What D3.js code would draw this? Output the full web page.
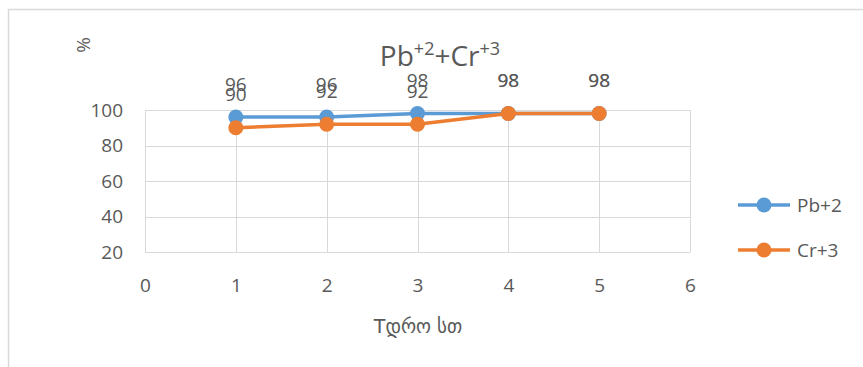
<!DOCTYPE html>
<html>
<head>
<meta charset="utf-8">
<script src="https://cdn.jsdelivr.net/npm/d3@7"></script>
<style>
  html, body { margin: 0; padding: 0; background: #fff; }
  svg { display: block; }
  text { font-family: "Open Sans", "Liberation Sans", "DejaVu Sans", sans-serif; fill: #595959; }
</style>
</head>
<body>
<script>
// Sampling times (hours)
const hours = [1, 2, 3, 4, 5];
// Removal efficiency, %
const pbValues = [96, 96, 98, 98, 98];
const crValues = [90, 92, 92, 98, 98];
const seriesNames = ["Pb+2", "Cr+3"];
const seriesColors = ["#5b9bd5", "#ed7d31"];
const xTicks = [0, 1, 2, 3, 4, 5, 6];
const yTicks = [20, 40, 60, 80, 100];

const W = 863, H = 367;
const svg = d3.select("body").append("svg").attr("width", W).attr("height", H);

svg.append("rect").attr("width", W).attr("height", H).attr("fill", "#fff");
// chart frame
svg.append("rect")
  .attr("x", 8.5).attr("y", 9.5).attr("width", W).attr("height", H)
  .attr("fill", "none").attr("stroke", "#d9d9d9").attr("stroke-width", 1.5);

const x = d3.scaleLinear().domain([0, 6]).range([145, 690]);
const y = d3.scaleLinear().domain([20, 100]).range([252, 110]);

// gridlines
const grid = svg.append("g").attr("stroke", "#d9d9d9").attr("stroke-width", 1);
grid.selectAll("line.h").data(yTicks).join("line")
  .attr("x1", x(0)).attr("x2", x(6))
  .attr("y1", d => Math.round(y(d)) + 0.5).attr("y2", d => Math.round(y(d)) + 0.5);
grid.selectAll("line.v").data(xTicks).join("line")
  .attr("y1", y(100)).attr("y2", y(20))
  .attr("x1", d => Math.round(x(d)) + 0.5).attr("x2", d => Math.round(x(d)) + 0.5);

// axes (labels only)
const xAxis = svg.append("g").attr("transform", `translate(0,${y(20) + 33})`)
  .call(d3.axisBottom(x).tickValues(xTicks).tickFormat(d3.format("d")).tickSize(0));
xAxis.select(".domain").remove();
xAxis.selectAll("text").attr("font-size", 19).attr("y", 0).attr("dy", "0.35em").attr("fill", "#595959");

const yAxis = svg.append("g").attr("transform", `translate(${x(0) - 22},0)`)
  .call(d3.axisLeft(y).tickValues(yTicks).tickFormat(d3.format("d")).tickSize(0));
yAxis.select(".domain").remove();
yAxis.selectAll("text").attr("font-size", 19).attr("x", 0).attr("fill", "#595959");
svg.selectAll(".tick text").style("font-family", '"Open Sans", "Liberation Sans", sans-serif');

// series
const series = [pbValues, crValues];
series.forEach((vals, i) => {
  const pts = hours.map((h, j) => [h, vals[j]]);
  const line = d3.line().x(d => x(d[0])).y(d => y(d[1]));
  svg.append("path").datum(pts)
    .attr("d", line).attr("fill", "none")
    .attr("stroke", seriesColors[i]).attr("stroke-width", 3.5)
    .attr("stroke-linejoin", "round");
  svg.append("g").selectAll("circle").data(pts).join("circle")
    .attr("cx", d => x(d[0])).attr("cy", d => y(d[1])).attr("r", 7.5)
    .attr("fill", seriesColors[i]);
});

// data labels
series.forEach((vals, i) => {
  svg.append("g").selectAll("text").data(hours.map((h, j) => [h, vals[j]])).join("text")
    .attr("x", d => x(d[0])).attr("y", d => y(d[1]) - 33)
    .attr("dy", "0.35em").attr("text-anchor", "middle")
    .attr("font-size", 19).text(d => d[1]);
});

// title
const title = svg.append("text").attr("x", 440).attr("y", 66)
  .attr("text-anchor", "middle").attr("font-size", 28);
title.append("tspan").text("Pb");
title.append("tspan").attr("font-size", 18).attr("dy", -11).text("+2");
title.append("tspan").attr("dy", 11).text("+Cr");
title.append("tspan").attr("font-size", 18).attr("dy", -11).text("+3");

// axis titles
svg.append("text").attr("transform", "translate(83,45) rotate(-90)")
  .attr("text-anchor", "middle").attr("dy", "0.35em").attr("font-size", 19).text("%");
svg.append("text").attr("x", 418).attr("y", 326).attr("text-anchor", "middle")
  .attr("dy", "0.35em").attr("font-size", 19)
  .style("font-family", '"DejaVu Sans", sans-serif').text("Tდრო სთ");

// legend
const legend = svg.append("g");
seriesNames.forEach((name, i) => {
  const ly = 205 + i * 45;
  legend.append("line").attr("x1", 738).attr("x2", 790).attr("y1", ly).attr("y2", ly)
    .attr("stroke", seriesColors[i]).attr("stroke-width", 3.5);
  legend.append("circle").attr("cx", 764).attr("cy", ly).attr("r", 7.5).attr("fill", seriesColors[i]);
  legend.append("text").attr("x", 797).attr("y", ly).attr("dy", "0.35em")
    .attr("font-size", 19).text(name);
});
</script>
</body>
</html>
